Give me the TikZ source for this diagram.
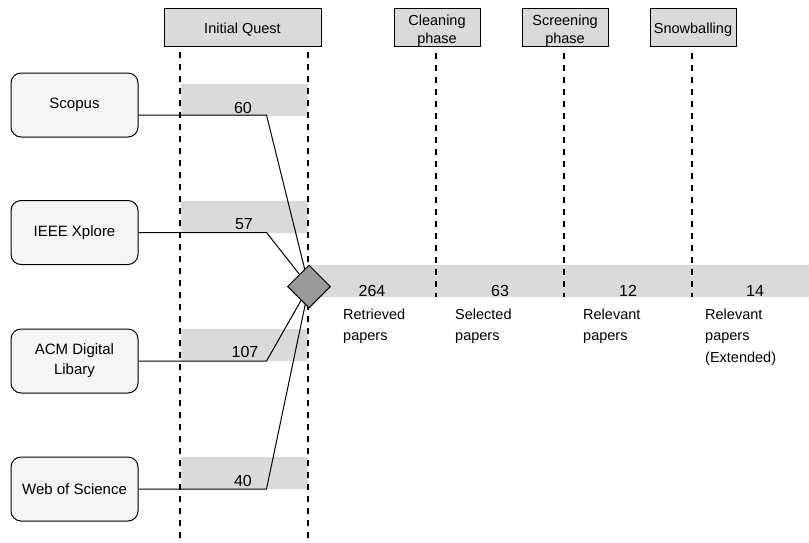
\documentclass[tikz,border=0pt]{standalone}
\usepackage{fontspec}
\setmainfont{Liberation Sans}
\usetikzlibrary{shapes.geometric}
\definecolor{hdrfill}{HTML}{DADADA}
\definecolor{srcfill}{HTML}{F5F5F5}
\definecolor{barfill}{HTML}{DADADA}
\definecolor{diafill}{HTML}{999999}
\begin{document}
\begin{tikzpicture}[x=1pt,y=-1pt,
  hdr/.style={draw, fill=hdrfill, line width=1pt, minimum width=86pt, minimum height=38pt, inner sep=0pt},
  src/.style={draw, fill=srcfill, rounded corners=10pt, line width=1pt, minimum width=127pt, minimum height=64pt, inner sep=0pt, align=center, font=\fontsize{15}{20}\selectfont},
  txt/.style={font=\fontsize{14.5}{21.5}\selectfont, inner sep=0pt},
  htxt/.style={font=\fontsize{14.5}{18}\selectfont, inner sep=0pt, align=center},
  num/.style={font=\fontsize{16}{19}\selectfont, inner sep=0pt, anchor=base},
  lane/.style={line width=2pt, dash pattern=on 6pt off 6pt},
  conn/.style={line width=1pt},
  bar/.style={fill=barfill, draw=none, inner sep=0pt, minimum height=32pt},
  dia/.style={diamond, draw, fill=diafill, line width=1pt, minimum width=43pt, minimum height=43pt, inner sep=0pt, aspect=1}]
\useasboundingbox (0,0) rectangle (809,542);

% grey bars
\node[bar, minimum width=127pt] (b1) at (244.5,100) {};
\node[bar, minimum width=127pt] (b2) at (244.5,217) {};
\node[bar, minimum width=127pt] (b3) at (244.5,345) {};
\node[bar, minimum width=127pt] (b4) at (244.5,473) {};
\node[bar, minimum width=501pt] (mainbar) at (558.5,281) {};

% headers
\node[hdr, minimum width=157pt] (iq) at (242.5,27) {};
\node[hdr] (clean) at (437,27) {};
\node[hdr] (screen) at (565,27) {};
\node[hdr] (snow) at (693,27) {};

% lanes
\coordinate (l1t) at (180,52);
\coordinate (l1b) at (180,542);
\coordinate (l2t) at (308,52);
\coordinate (l2b) at (308,542);
\draw[lane] (l1t) -- (l1b);
\draw[lane] (l2t) -- (l2b);
\draw[lane] ([yshift=-6pt]clean.south -| 436,0) -- (436,297);
\draw[lane] ([yshift=-6pt]screen.south -| 564,0) -- (564,297);
\draw[lane] ([yshift=-6pt]snow.south -| 692,0) -- (692,297);

% sources
\node[src] (scopus) at (74.5,105) {Scopus};
\node[src] (ieee) at (74.5,232.5) {IEEE Xplore};
\node[src] (acm) at (74.5,361) {ACM Digital\\Libary};
\node[src] (wos) at (74.5,489) {Web of Science};

% connectors
\coordinate (dc) at (309,286.5);
\draw[conn] ([yshift=-10pt]scopus.east) -- ++(128,0) -- (dc);
\draw[conn] (ieee.east) -- ++(128,0) -- (dc);
\draw[conn] (acm.east) -- ++(128,0) -- (dc);
\draw[conn] (wos.east) -- ++(128,0) -- (dc);
\node[dia] (merge) at (dc) {};

% header texts
\node[htxt, anchor=base] (tiq) at (242.5,33) {Initial Quest};
\node[htxt, anchor=north] (tclean) at (437,14.5) {Cleaning\\phase};
\node[htxt, anchor=north] (tscreen) at (565,14.5) {Screening\\phase};
\node[htxt, anchor=base] (tsnow) at (693,33) {Snowballing};

% numbers
\node[num] (n60) at (243,113.5) {60};
\node[num] (n57) at (244,229.5) {57};
\node[num] (n107) at (245,357) {107};
\node[num] (n40) at (243,486) {40};
\node[num] (n264) at (372,296.5) {264};
\node[num] (n63) at (500,296.5) {63};
\node[num] (n12) at (628,296.5) {12};
\node[num] (n14) at (755,296.5) {14};

% labels
\node[txt, align=left, anchor=north west] (lr) at (343,308.5) {Retrieved\\papers};
\node[txt, align=left, anchor=north west] (ls) at (455,308.5) {Selected\\papers};
\node[txt, align=left, anchor=north west] (lrel) at (583,308.5) {Relevant\\papers};
\node[txt, align=left, anchor=north west] (lext) at (705,308.5) {Relevant\\papers\\(Extended)};
\end{tikzpicture}
\end{document}
